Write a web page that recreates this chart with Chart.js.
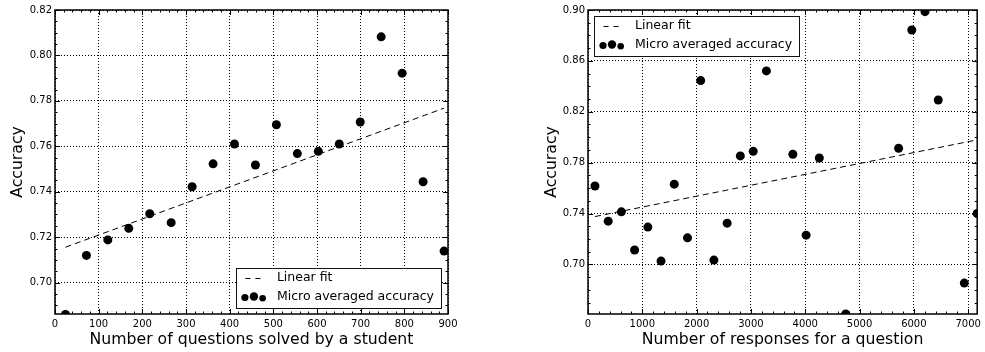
<!DOCTYPE html>
<html>
<head>
<meta charset="utf-8">
<script src="https://cdn.jsdelivr.net/npm/chart.js@4/dist/chart.umd.min.js"></script>
<style>
  body { margin: 0; background: #fff; width: 985px; height: 352px; position: relative; overflow: hidden; }
  canvas { position: absolute; top: 0; }
  #left { left: 0; }
  #right { left: 490px; }
</style>
</head>
<body>
<canvas id="left" width="490" height="352"></canvas>
<canvas id="right" width="495" height="352"></canvas>
<script>
'use strict'
const FONT = 'DejaVu Sans'

// left panel: accuracy vs questions solved by a student
const studentX = [24, 72, 121, 169, 217, 266, 314, 362, 411, 459, 507, 555, 603, 651, 699, 747, 795, 843, 891]
const studentAcc = [0.686, 0.712, 0.7188, 0.7239, 0.7303, 0.7264, 0.7422, 0.7523, 0.761, 0.7518,
  0.7695, 0.7568, 0.7578, 0.761, 0.7707, 0.8082, 0.7922, 0.7444, 0.7139]
const studentFitX = [24, 891]
const studentFitY = [0.7156, 0.7768]
const studentXTicks = [0, 100, 200, 300, 400, 500, 600, 700, 800, 900]
const studentYTicks = [0.70, 0.72, 0.74, 0.76, 0.78, 0.80, 0.82]

// right panel: accuracy vs responses for a question
const questionX = [128, 372, 615, 858, 1102, 1345, 1588, 1832, 2075, 2318, 2562, 2805, 3042, 3285,
  3772, 4016, 4259, 4745, 5719, 5962, 6205, 6449, 6929, 7166]
const questionAcc = [0.7616, 0.734, 0.7413, 0.7113, 0.7293, 0.7026, 0.7631, 0.7209, 0.8445, 0.7034,
  0.7324, 0.7853, 0.7889, 0.8521, 0.7866, 0.723, 0.7836, 0.661, 0.7913, 0.8843, 0.8987, 0.8292,
  0.6853, 0.74]
const questionFitX = [128, 7166]
const questionFitY = [0.7376, 0.7979]
const questionXTicks = [0, 1000, 2000, 3000, 4000, 5000, 6000, 7000]
const questionYTicks = [0.70, 0.74, 0.78, 0.82, 0.86, 0.90]

const fitLabel = 'Linear fit'
const scatterLabel = 'Micro averaged accuracy'

const toPoints = (xs, ys) => xs.map((x, i) => ({ x: x, y: ys[i] }))

// inward ticks on all four sides + frame, like matplotlib classic
function subTicks(major, n, min, max) {
  const step = (major[1] - major[0]) / n
  const out = []
  let v = major[0]
  while (v - step >= min - 1e-9) v -= step
  for (; v <= max + 1e-9; v += step) out.push(v)
  return out
}

const frameTicks = {
  id: 'frameTicks',
  afterDatasetsDraw(chart, args, opts) {
    const { ctx, chartArea: a, scales } = chart
    const xs = scales.x
    const ys = scales.y
    ctx.save()
    ctx.strokeStyle = 'black'
    ctx.lineWidth = 1
    const seg = (x1, y1, x2, y2) => {
      ctx.beginPath()
      ctx.moveTo(x1, y1)
      ctx.lineTo(x2, y2)
      ctx.stroke()
    }
    const tickX = (v, len) => {
      const p = Math.round(xs.getPixelForValue(v)) + 0.5
      if (p < a.left - 1 || p > a.right + 1) return
      seg(p, a.bottom, p, a.bottom - len)
      seg(p, a.top, p, a.top + len)
    }
    const tickY = (v, len) => {
      const p = Math.round(ys.getPixelForValue(v)) + 0.5
      if (p < a.top - 1 || p > a.bottom + 1) return
      seg(a.left, p, a.left + len, p)
      seg(a.right, p, a.right - len, p)
    }
    subTicks(opts.xTicks, opts.xMinor, xs.min, xs.max).forEach((v) => tickX(v, 2.5))
    subTicks(opts.yTicks, opts.yMinor, ys.min, ys.max).forEach((v) => tickY(v, 2.5))
    opts.xTicks.forEach((v) => tickX(v, 5))
    opts.yTicks.forEach((v) => tickY(v, 5))
    ctx.lineWidth = 1.5
    ctx.strokeRect(a.left, a.top, a.right - a.left, a.bottom - a.top)

    // legend box
    const lg = opts.legend
    ctx.font = '12.5px "' + FONT + '"'
    const tw = ctx.measureText(scatterLabel).width
    const w = 41 + tw + 7
    const h = 40
    const bx = lg.corner === 'lr' ? a.right - 7 - w : a.left + 6
    const by = lg.corner === 'lr' ? a.bottom - 6 - h : a.top + 6
    ctx.fillStyle = 'white'
    ctx.fillRect(bx, by, w, h)
    ctx.lineWidth = 1
    ctx.strokeStyle = '#111'
    ctx.strokeRect(Math.round(bx) + 0.5, Math.round(by) + 0.5, Math.round(w), h)
    ctx.strokeStyle = 'black'
    ctx.setLineDash([5, 5])
    seg(bx + 9.5, by + 10.5, bx + 25, by + 10.5)
    ctx.setLineDash([])
    ctx.fillStyle = 'black'
    const dots = [[9, 29.5, 3.6], [18, 28.5, 4.2], [26.7, 30.2, 3.3]]
    dots.forEach((d) => {
      ctx.beginPath()
      ctx.arc(bx + d[0], by + d[1], d[2], 0, 2 * Math.PI)
      ctx.fill()
    })
    ctx.textBaseline = 'middle'
    ctx.textAlign = 'left'
    ctx.fillText(fitLabel, bx + 41, by + 10)
    ctx.fillText(scatterLabel, bx + 41, by + 28.5)
    ctx.restore()
  },
}

function makeChart(id, cfg) {
  const fixTicks = (list) => (axis) => {
    axis.ticks = list.map((v) => ({ value: v }))
  }
  return new Chart(document.getElementById(id), {
    type: 'scatter',
    data: {
      datasets: [
        {
          type: 'line',
          label: fitLabel,
          data: toPoints(cfg.fitX, cfg.fitY),
          borderColor: 'black',
          borderWidth: 1,
          borderDash: [6, 4],
          pointRadius: 0,
          fill: false,
        },
        {
          label: scatterLabel,
          data: toPoints(cfg.x, cfg.y),
          backgroundColor: 'black',
          borderWidth: 0,
          pointRadius: 4.5,
        },
      ],
    },
    options: {
      responsive: false,
      animation: false,
      devicePixelRatio: 1,
      layout: { padding: cfg.padding },
      plugins: {
        legend: { display: false },
        tooltip: { enabled: false },
        frameTicks: {
          xTicks: cfg.xTicks,
          yTicks: cfg.yTicks,
          xMinor: 5,
          yMinor: 4,
          legend: { corner: cfg.legendCorner },
        },
      },
      scales: {
        x: {
          type: 'linear',
          min: cfg.xMin,
          max: cfg.xMax,
          afterBuildTicks: fixTicks(cfg.xTicks),
          afterFit: (s) => { s.height = 38 },
          ticks: {
            color: 'black',
            padding: 4,
            font: { family: FONT, size: 10 },
            callback: (v) => String(v),
          },
          grid: { color: 'black', lineWidth: 1, drawTicks: false },
          border: { display: false, dash: [1, 2] },
          title: {
            display: true,
            text: cfg.xTitle,
            color: 'black',
            font: { family: FONT, size: 15.7 },
            padding: { top: 0, bottom: 3 },
          },
        },
        y: {
          type: 'linear',
          min: cfg.yMin,
          max: cfg.yMax,
          afterBuildTicks: fixTicks(cfg.yTicks),
          afterFit: (s) => { s.width = cfg.yWidth },
          ticks: {
            color: 'black',
            padding: 3,
            font: { family: FONT, size: 10 },
            callback: (v) => v.toFixed(2),
          },
          grid: { color: 'black', lineWidth: 1, drawTicks: false },
          border: { display: false, dash: [1, 2] },
          title: {
            display: true,
            text: 'Accuracy',
            color: 'black',
            font: { family: FONT, size: 15.7 },
            padding: { top: 8.6, bottom: 0 },
          },
        },
      },
    },
    plugins: [frameTicks],
  })
}

makeChart('left', {
  x: studentX,
  y: studentAcc,
  fitX: studentFitX,
  fitY: studentFitY,
  xTicks: studentXTicks,
  yTicks: studentYTicks,
  xMin: 0,
  xMax: 900,
  yMin: 0.6862,
  yMax: 0.82,
  xTitle: 'Number of questions solved by a student',
  padding: { left: 0, right: 42, top: 10, bottom: 0 },
  yWidth: 55,
  legendCorner: 'lr',
})

makeChart('right', {
  x: questionX,
  y: questionAcc,
  fitX: questionFitX,
  fitY: questionFitY,
  xTicks: questionXTicks,
  yTicks: questionYTicks,
  xMin: 0,
  xMax: 7166,
  yMin: 0.661,
  yMax: 0.90,
  xTitle: 'Number of responses for a question',
  padding: { left: 44, right: 4, top: 10, bottom: 0 },
  yWidth: 54,
  legendCorner: 'ul',
})
</script>
</body>
</html>
